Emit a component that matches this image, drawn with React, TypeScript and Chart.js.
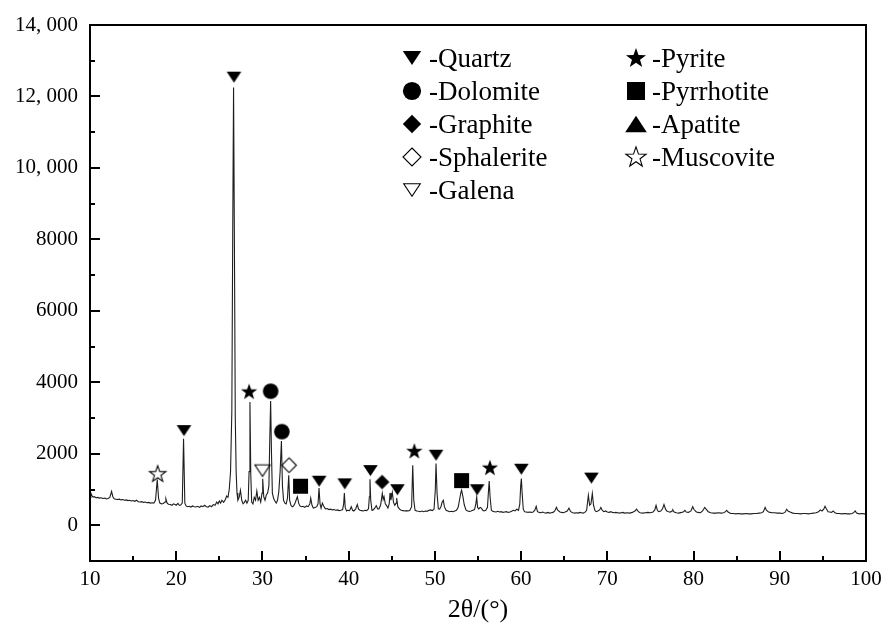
import { useEffect, useRef } from "react";
import { Chart, registerables } from "chart.js";

Chart.register(...registerables);

// XRD pattern: [2θ (°), intensity]
const xrdPattern: [number, number][] = [
  [10.0, 780], [10.1, 900], [10.2, 840], [10.35, 790], [10.5, 800], [10.7, 770], [10.9, 780], [11.1, 760],
  [11.3, 770], [11.5, 750], [11.7, 760], [11.9, 740], [12.1, 750], [12.3, 780], [12.5, 950], [12.65, 800],
  [12.8, 740], [13.0, 730], [13.2, 720], [13.4, 730], [13.6, 710], [13.8, 720], [14.0, 700], [14.2, 710],
  [14.4, 690], [14.6, 700], [14.8, 680], [15.0, 690], [15.2, 670], [15.4, 700], [15.6, 660], [15.8, 650],
  [16.0, 660], [16.2, 640], [16.4, 650], [16.6, 630], [16.8, 640], [17.0, 620], [17.2, 630], [17.4, 620],
  [17.6, 700], [17.8, 1280], [17.95, 760], [18.1, 620], [18.3, 600], [18.5, 610], [18.7, 650], [18.8, 740],
  [18.95, 620], [19.1, 590], [19.3, 580], [19.5, 560], [19.7, 600], [19.85, 580], [20.0, 560], [20.2, 610],
  [20.35, 560], [20.5, 560], [20.7, 620], [20.85, 2420], [21.0, 620], [21.15, 540], [21.3, 520], [21.5, 530],
  [21.7, 510], [21.9, 540], [22.1, 520], [22.3, 510], [22.5, 530], [22.7, 500], [22.9, 540], [23.1, 520],
  [23.3, 560], [23.5, 520], [23.7, 510], [23.9, 550], [24.1, 520], [24.3, 580], [24.5, 560], [24.7, 650],
  [24.85, 600], [25.0, 680], [25.15, 620], [25.3, 700], [25.5, 640], [25.7, 720], [25.85, 820], [26.0, 780],
  [26.15, 1000], [26.3, 1500], [26.45, 3200], [26.55, 8000], [26.65, 12250], [26.75, 7800], [26.85, 3000],
  [26.95, 1500], [27.05, 900], [27.15, 700], [27.3, 780], [27.45, 980], [27.6, 700], [27.75, 600], [27.9, 640],
  [28.05, 700], [28.2, 620], [28.35, 700], [28.45, 1500], [28.55, 3450], [28.65, 1400], [28.75, 650], [28.9, 600],
  [29.05, 780], [29.2, 700], [29.35, 960], [29.5, 700], [29.65, 780], [29.8, 650], [29.95, 900], [30.03, 1300],
  [30.15, 800], [30.3, 700], [30.45, 850], [30.6, 900], [30.75, 1100], [30.85, 2400], [30.95, 3480], [31.05, 2000],
  [31.15, 900], [31.3, 750], [31.45, 680], [31.6, 620], [31.75, 700], [31.9, 950], [32.05, 1500], [32.2, 2360],
  [32.32, 1100], [32.45, 700], [32.6, 620], [32.75, 600], [32.9, 750], [33.05, 1400], [33.15, 700], [33.3, 560],
  [33.45, 520], [33.6, 540], [33.75, 600], [33.9, 700], [34.05, 800], [34.2, 620], [34.35, 540], [34.5, 520],
  [34.7, 530], [34.9, 500], [35.1, 540], [35.3, 520], [35.5, 600], [35.6, 760], [35.75, 560], [35.9, 480],
  [36.1, 500], [36.3, 520], [36.45, 600], [36.56, 1040], [36.68, 600], [36.8, 480], [36.95, 620], [37.1, 540],
  [37.3, 460], [37.5, 470], [37.7, 440], [37.9, 450], [38.1, 430], [38.3, 440], [38.5, 420], [38.7, 430],
  [38.9, 410], [39.1, 420], [39.3, 440], [39.42, 600], [39.5, 900], [39.6, 500], [39.75, 400], [39.9, 420],
  [40.1, 410], [40.3, 520], [40.45, 420], [40.6, 400], [40.8, 450], [41.0, 580], [41.15, 450], [41.3, 420],
  [41.5, 410], [41.7, 400], [41.9, 420], [42.1, 410], [42.3, 460], [42.4, 800], [42.47, 1290], [42.56, 700],
  [42.7, 420], [42.85, 430], [43.0, 470], [43.2, 550], [43.35, 460], [43.5, 450], [43.7, 560], [43.9, 890],
  [44.0, 720], [44.1, 800], [44.25, 600], [44.4, 550], [44.55, 480], [44.7, 600], [44.8, 900], [44.9, 700],
  [45.06, 920], [45.2, 640], [45.35, 560], [45.5, 620], [45.57, 760], [45.7, 520], [45.9, 450], [46.1, 420],
  [46.3, 410], [46.5, 400], [46.7, 410], [46.9, 400], [47.1, 420], [47.3, 520], [47.43, 1680], [47.55, 700],
  [47.7, 420], [47.9, 400], [48.1, 390], [48.3, 380], [48.5, 400], [48.7, 380], [48.9, 400], [49.1, 390],
  [49.3, 420], [49.5, 430], [49.7, 410], [49.9, 450], [50.05, 1000], [50.13, 1730], [50.25, 900], [50.4, 460],
  [50.55, 450], [50.7, 520], [50.85, 650], [50.98, 700], [51.1, 520], [51.3, 420], [51.5, 400], [51.7, 380],
  [51.9, 390], [52.1, 380], [52.3, 400], [52.5, 420], [52.7, 500], [52.85, 700], [53.0, 900], [53.1, 980],
  [53.25, 800], [53.4, 580], [53.6, 430], [53.8, 400], [54.0, 390], [54.2, 400], [54.4, 420], [54.6, 440],
  [54.75, 600], [54.85, 790], [54.95, 500], [55.1, 460], [55.25, 500], [55.4, 480], [55.55, 420], [55.7, 400],
  [55.9, 420], [56.1, 500], [56.2, 900], [56.3, 1240], [56.4, 800], [56.55, 420], [56.7, 390], [56.9, 380],
  [57.1, 370], [57.3, 390], [57.5, 370], [57.7, 380], [57.9, 360], [58.1, 370], [58.3, 380], [58.5, 360],
  [58.7, 370], [58.9, 390], [59.1, 420], [59.3, 400], [59.5, 450], [59.7, 420], [59.85, 600], [59.95, 1100],
  [60.03, 1310], [60.12, 900], [60.25, 450], [60.4, 380], [60.6, 370], [60.8, 360], [61.0, 370], [61.2, 360],
  [61.4, 370], [61.6, 430], [61.75, 530], [61.9, 380], [62.1, 360], [62.3, 350], [62.5, 370], [62.7, 350],
  [62.9, 340], [63.1, 360], [63.3, 340], [63.5, 350], [63.7, 360], [63.9, 400], [64.1, 500], [64.25, 420],
  [64.5, 370], [64.7, 360], [64.9, 350], [65.1, 370], [65.35, 400], [65.55, 480], [65.75, 380], [66.0, 350],
  [66.2, 340], [66.4, 350], [66.6, 340], [66.8, 360], [67.0, 350], [67.2, 340], [67.4, 360], [67.6, 420],
  [67.8, 840], [67.95, 560], [68.1, 600], [68.26, 890], [68.4, 560], [68.55, 420], [68.7, 380], [68.9, 400],
  [69.1, 430], [69.25, 500], [69.4, 420], [69.6, 380], [69.8, 400], [70.0, 370], [70.2, 360], [70.4, 380],
  [70.6, 360], [70.8, 350], [71.0, 360], [71.2, 350], [71.4, 340], [71.6, 350], [71.8, 360], [72.0, 340],
  [72.3, 350], [72.6, 340], [72.9, 360], [73.2, 400], [73.4, 450], [73.6, 380], [73.8, 350], [74.1, 340],
  [74.4, 350], [74.7, 360], [75.0, 350], [75.3, 370], [75.5, 430], [75.65, 560], [75.8, 420], [75.95, 380],
  [76.2, 400], [76.4, 460], [76.57, 580], [76.75, 450], [76.9, 400], [77.1, 380], [77.3, 370], [77.5, 400],
  [77.6, 430], [77.75, 370], [78.0, 350], [78.3, 340], [78.6, 360], [78.85, 380], [79.0, 420], [79.15, 370],
  [79.4, 360], [79.7, 400], [79.9, 520], [80.05, 440], [80.3, 380], [80.5, 360], [80.8, 350], [81.05, 400],
  [81.2, 460], [81.3, 500], [81.45, 450], [81.7, 380], [82.0, 350], [82.3, 340], [82.6, 340], [82.9, 350],
  [83.2, 340], [83.5, 350], [83.7, 380], [83.85, 420], [84.0, 370], [84.3, 330], [84.6, 330], [84.9, 320],
  [85.2, 330], [85.5, 320], [85.8, 320], [86.1, 330], [86.4, 320], [86.7, 320], [87.0, 330], [87.3, 330],
  [87.6, 340], [87.9, 350], [88.1, 380], [88.3, 500], [88.45, 420], [88.7, 370], [88.9, 360], [89.1, 350],
  [89.4, 350], [89.7, 340], [90.0, 340], [90.3, 330], [90.6, 360], [90.8, 450], [90.95, 400], [91.2, 370],
  [91.5, 340], [91.8, 330], [92.1, 330], [92.4, 320], [92.7, 330], [93.0, 330], [93.3, 320], [93.6, 330],
  [93.9, 340], [94.2, 350], [94.5, 380], [94.7, 430], [94.9, 400], [95.1, 450], [95.25, 530], [95.4, 460],
  [95.6, 380], [95.8, 370], [96.0, 360], [96.2, 400], [96.4, 350], [96.6, 330], [96.9, 330], [97.2, 320],
  [97.5, 330], [97.8, 320], [98.1, 320], [98.4, 330], [98.6, 360], [98.75, 400], [98.9, 340], [99.2, 320],
  [99.5, 330], [99.8, 320], [100.0, 320],
];

// Phase marker positions [2θ, intensity]
const quartzMarks: [number, number][] = [
  [20.9, 2650], [26.7, 12540], [36.58, 1232], [39.55, 1160], [42.52, 1530], [45.65, 995],
  [50.13, 1960], [54.9, 995], [60.03, 1568], [68.15, 1320],
];
const dolomiteMarks: [number, number][] = [[30.95, 3752], [32.25, 2620]];
const graphiteMarks: [number, number][] = [[43.88, 1210]];
const sphaleriteMarks: [number, number][] = [[33.08, 1680]];
const galenaMarks: [number, number][] = [[30.0, 1530]];
const pyriteMarks: [number, number][] = [[28.45, 3740], [47.62, 2075], [56.38, 1610]];
const pyrrhotiteMarks: [number, number][] = [[34.42, 1092], [53.1, 1250]];
const apatiteMarks: [number, number][] = [];
const muscoviteMarks: [number, number][] = [[17.85, 1440]];

const legendLabels = [
  "-Quartz", "-Dolomite", "-Graphite", "-Sphalerite", "-Galena",
  "-Pyrite", "-Pyrrhotite", "-Apatite", "-Muscovite",
];

const xMajorTicks = [10, 20, 30, 40, 50, 60, 70, 80, 90, 100];
const xMinorTicks = [15, 25, 35, 45, 55, 65, 75, 85, 95];
const yMajorTicks = [0, 2000, 4000, 6000, 8000, 10000, 12000, 14000];
const yMinorTicks = [1000, 3000, 5000, 7000, 9000, 11000, 13000];
const yTickLabels = ["0", "2000", "4000", "6000", "8000", "10, 000", "12, 000", "14, 000"];
const xAxisTitle = "2θ/(°)";

type Kind =
  | "down" | "circle" | "diamond" | "diamondOpen" | "downOpen"
  | "star" | "square" | "up" | "starOpen";

const FONT = '"Liberation Serif", "Times New Roman", serif';

function drawShape(ctx: CanvasRenderingContext2D, kind: Kind, cx: number, cy: number, s: number) {
  ctx.save();
  ctx.fillStyle = "#000";
  ctx.strokeStyle = "#000";
  ctx.lineWidth = 1.1;
  ctx.lineJoin = "miter";
  ctx.beginPath();
  let fill = true;
  if (kind === "down" || kind === "downOpen") {
    const h = s * 1.5;
    ctx.moveTo(cx - s, cy - h / 2);
    ctx.lineTo(cx + s, cy - h / 2);
    ctx.lineTo(cx, cy + h / 2);
    ctx.closePath();
    fill = kind === "down";
  } else if (kind === "up") {
    const h = s * 1.55;
    ctx.moveTo(cx - s, cy + h / 2);
    ctx.lineTo(cx + s, cy + h / 2);
    ctx.lineTo(cx, cy - h / 2);
    ctx.closePath();
  } else if (kind === "circle") {
    ctx.arc(cx, cy, s, 0, Math.PI * 2);
  } else if (kind === "square") {
    ctx.rect(cx - s, cy - s, 2 * s, 2 * s);
  } else if (kind === "diamond" || kind === "diamondOpen") {
    ctx.moveTo(cx, cy - s);
    ctx.lineTo(cx + s, cy);
    ctx.lineTo(cx, cy + s);
    ctx.lineTo(cx - s, cy);
    ctx.closePath();
    fill = kind === "diamond";
  } else {
    for (let i = 0; i < 10; i++) {
      const r = i % 2 === 0 ? s : s * 0.4;
      const a = -Math.PI / 2 + (i * Math.PI) / 5;
      const px = cx + Math.cos(a) * r;
      const py = cy + 0.5 + Math.sin(a) * r;
      if (i === 0) ctx.moveTo(px, py);
      else ctx.lineTo(px, py);
    }
    ctx.closePath();
    fill = kind === "star";
  }
  if (fill) ctx.fill();
  else ctx.stroke();
  ctx.restore();
}

function makeImage(kind: Kind, s: number): HTMLCanvasElement {
  const c = document.createElement("canvas");
  const size = Math.ceil(2 * s + 4);
  c.width = size;
  c.height = size;
  const ctx = c.getContext("2d")!;
  drawShape(ctx, kind, size / 2, size / 2, s);
  return c;
}

export default function App() {
  const ref = useRef<HTMLCanvasElement | null>(null);

  useEffect(() => {
    document.body.style.margin = "0";
    const canvas = ref.current;
    if (!canvas) return;

    const phases: { marks: [number, number][]; kind: Kind; plotSize: number; legendSize: number }[] = [
      { marks: quartzMarks, kind: "down", plotSize: 7.3, legendSize: 9.2 },
      { marks: dolomiteMarks, kind: "circle", plotSize: 7.8, legendSize: 9.1 },
      { marks: graphiteMarks, kind: "diamond", plotSize: 7.3, legendSize: 9.2 },
      { marks: sphaleriteMarks, kind: "diamondOpen", plotSize: 7.3, legendSize: 9.0 },
      { marks: galenaMarks, kind: "downOpen", plotSize: 7.6, legendSize: 8.3 },
      { marks: pyriteMarks, kind: "star", plotSize: 8.6, legendSize: 10.6 },
      { marks: pyrrhotiteMarks, kind: "square", plotSize: 7.5, legendSize: 9.0 },
      { marks: apatiteMarks, kind: "up", plotSize: 8.5, legendSize: 10.8 },
      { marks: muscoviteMarks, kind: "starOpen", plotSize: 8.6, legendSize: 10.6 },
    ];

    const framePlugin = {
      id: "frameAndLegend",
      afterDraw(chart: any) {
        const ctx: CanvasRenderingContext2D = chart.ctx;
        const { left, right, top, bottom } = chart.chartArea;
        const xs = chart.scales.x;
        const ys = chart.scales.y;
        ctx.save();
        ctx.strokeStyle = "#000";
        ctx.lineWidth = 2;
        ctx.strokeRect(left, top, right - left, bottom - top);
        ctx.beginPath();
        xMajorTicks.forEach((v) => {
          const px = Math.round(xs.getPixelForValue(v));
          ctx.moveTo(px, bottom);
          ctx.lineTo(px, bottom - 10);
        });
        xMinorTicks.forEach((v) => {
          const px = Math.round(xs.getPixelForValue(v));
          ctx.moveTo(px, bottom);
          ctx.lineTo(px, bottom - 5);
        });
        yMajorTicks.forEach((v) => {
          const py = Math.round(ys.getPixelForValue(v));
          ctx.moveTo(left, py);
          ctx.lineTo(left + 10, py);
        });
        yMinorTicks.forEach((v) => {
          const py = Math.round(ys.getPixelForValue(v));
          ctx.moveTo(left, py);
          ctx.lineTo(left + 5, py);
        });
        ctx.stroke();

        // legend
        ctx.fillStyle = "#000";
        ctx.font = `27px ${FONT}`;
        ctx.textBaseline = "alphabetic";
        ctx.textAlign = "left";
        phases.forEach((p, i) => {
          const col = i < 5 ? 0 : 1;
          const row = i < 5 ? i : i - 5;
          const sx = left + (col === 0 ? 322 : 546);
          const tx = left + (col === 0 ? 339 : 562);
          const cy = top + 33 + row * 33;
          drawShape(ctx, p.kind, sx, cy, p.legendSize);
          ctx.fillText(legendLabels[i], tx, cy + 9);
        });
        ctx.restore();
      },
    };

    const markerSets = phases.map((p) => ({
      type: "scatter" as const,
      data: p.marks.map(([x, y]) => ({ x, y })),
      pointStyle: makeImage(p.kind, p.plotSize),
      pointRadius: 8,
      pointHoverRadius: 8,
      showLine: false,
      order: 1,
    }));

    const chart = new Chart(canvas, {
      type: "line",
      data: {
        datasets: [
          {
            type: "line",
            data: xrdPattern.map(([x, y]) => ({ x, y })),
            borderColor: "#1e1e1e",
            borderWidth: 1.1,
            pointRadius: 0,
            tension: 0,
            fill: false,
            order: 2,
          } as any,
          ...(markerSets as any[]),
        ],
      },
      options: {
        animation: false,
        responsive: false,
        events: [],
        layout: { padding: { top: 25, right: 18, left: 0, bottom: 0 } },
        plugins: { legend: { display: false }, tooltip: { enabled: false } },
        scales: {
          x: {
            type: "linear",
            min: 10,
            max: 100,
            afterBuildTicks: (s: any) => {
              s.ticks = xMajorTicks.map((v) => ({ value: v }));
            },
            afterFit: (s: any) => {
              s.height = 63;
              s.paddingRight = 0;
              s.paddingLeft = 0;
            },
            ticks: {
              autoSkip: false,
              maxRotation: 0,
              padding: 6,
              color: "#000",
              font: { family: FONT, size: 21 },
            },
            grid: { display: false, drawTicks: false },
            border: { display: false },
            title: {
              display: true,
              text: xAxisTitle,
              color: "#000",
              font: { family: FONT, size: 26, lineHeight: 1 },
              padding: { top: 0, bottom: 1 },
            },
          },
          y: {
            type: "linear",
            min: -1000,
            max: 14000,
            afterBuildTicks: (s: any) => {
              s.ticks = yMajorTicks.map((v) => ({ value: v }));
            },
            afterFit: (s: any) => {
              s.width = 90;
              s.paddingTop = 0;
              s.paddingBottom = 0;
            },
            ticks: {
              autoSkip: false,
              padding: 12,
              color: "#000",
              font: { family: FONT, size: 21 },
              callback: (v: any) => {
                const i = yMajorTicks.indexOf(Number(v));
                return i >= 0 ? yTickLabels[i] : "";
              },
            },
            grid: { display: false, drawTicks: false },
            border: { display: false },
          },
        },
      } as any,
      plugins: [framePlugin],
    });

    return () => chart.destroy();
  }, []);

  return (
    <div style={{ width: 884, height: 624, background: "#fff" }}>
      <canvas ref={ref} width={884} height={624} style={{ display: "block" }} />
    </div>
  );
}
